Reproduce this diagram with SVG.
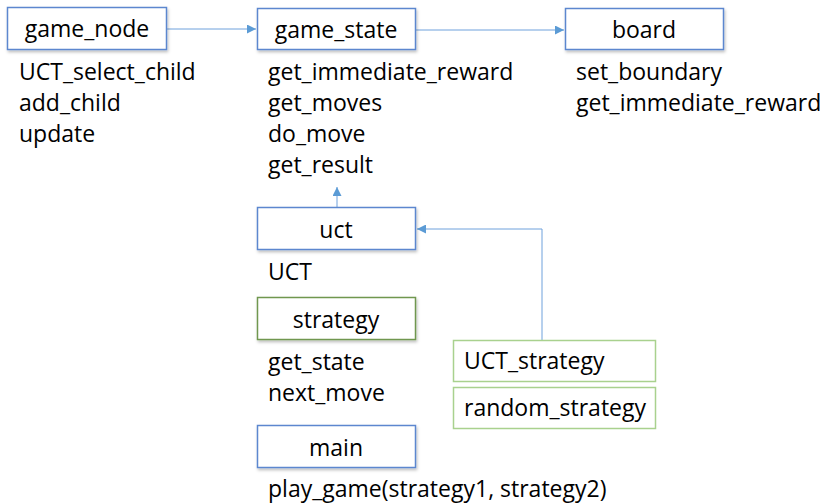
<svg xmlns="http://www.w3.org/2000/svg" width="824" height="503" viewBox="0 0 824 503">
<style>
.box{fill:#fff;stroke:#5b87cf;stroke-width:1.5}
.gbox{fill:#fff;stroke:#a9d18e;stroke-width:1.5}
.dgbox{fill:#fff;stroke:#70974f;stroke-width:1.5}
.t{font-family:"Open Sans","Noto Sans",sans-serif;font-size:23px;fill:#000}
.c{text-anchor:middle}
.con{fill:none;stroke:#6fa1dc;stroke-width:1}
</style>
<defs>
<marker id="a" viewBox="0 0 10 10" refX="10" refY="5" markerWidth="9" markerHeight="9" markerUnits="userSpaceOnUse" orient="auto"><path d="M0,0L10,5L0,10z" fill="#5b9bd5"/></marker>
<filter id="sh" x="-10%" y="-20%" width="130%" height="160%"><feDropShadow dx="1" dy="2" stdDeviation="1.5" flood-color="#000" flood-opacity="0.25"/></filter>
</defs>
<g id="connectors">
<path class="con" d="M167,29H256" marker-end="url(#a)"/>
<path class="con" d="M416,30H564" marker-end="url(#a)"/>
<path class="con" d="M337,207V187" marker-end="url(#a)"/>
<path class="con" d="M542,340V229H417" marker-end="url(#a)"/>
</g>
<g id="game_node">
<rect class="box" x="7.5" y="7.5" width="159" height="42" filter="url(#sh)"/>
<text class="t c" x="87" y="37">game_node</text>
<text class="t" x="19" y="80">UCT_select_child</text>
<text class="t" x="19" y="111">add_child</text>
<text class="t" x="19" y="142">update</text>
</g>
<g id="game_state">
<rect class="box" x="257.5" y="8.5" width="158" height="41" filter="url(#sh)"/>
<text class="t c" x="336" y="38">game_state</text>
<text class="t" x="268" y="80">get_immediate_reward</text>
<text class="t" x="268" y="111">get_moves</text>
<text class="t" x="268" y="142">do_move</text>
<text class="t" x="268" y="173">get_result</text>
</g>
<g id="board">
<rect class="box" x="565.5" y="8.5" width="158" height="41" filter="url(#sh)"/>
<text class="t c" x="644" y="38">board</text>
<text class="t" x="576" y="80">set_boundary</text>
<text class="t" x="576" y="111">get_immediate_reward</text>
</g>
<g id="uct">
<rect class="box" x="257.5" y="207.5" width="158" height="42" filter="url(#sh)"/>
<text class="t c" x="336" y="238">uct</text>
<text class="t" x="268" y="280">UCT</text>
</g>
<g id="strategy">
<rect class="dgbox" x="257.5" y="297.5" width="158" height="42" filter="url(#sh)"/>
<text class="t c" x="336" y="328">strategy</text>
<text class="t" x="268" y="370">get_state</text>
<text class="t" x="268" y="401">next_move</text>
</g>
<g id="UCT_strategy">
<rect class="gbox" x="453.5" y="340.5" width="202" height="41"/>
<text class="t" x="464" y="369">UCT_strategy</text>
</g>
<g id="random_strategy">
<rect class="gbox" x="453.5" y="387.5" width="202" height="41"/>
<text class="t" x="464" y="416">random_strategy</text>
</g>
<g id="main">
<rect class="box" x="257.5" y="425.5" width="158" height="42" filter="url(#sh)"/>
<text class="t c" x="336" y="456">main</text>
<text class="t" x="268" y="497">play_game(strategy1, strategy2)</text>
</g>
</svg>
